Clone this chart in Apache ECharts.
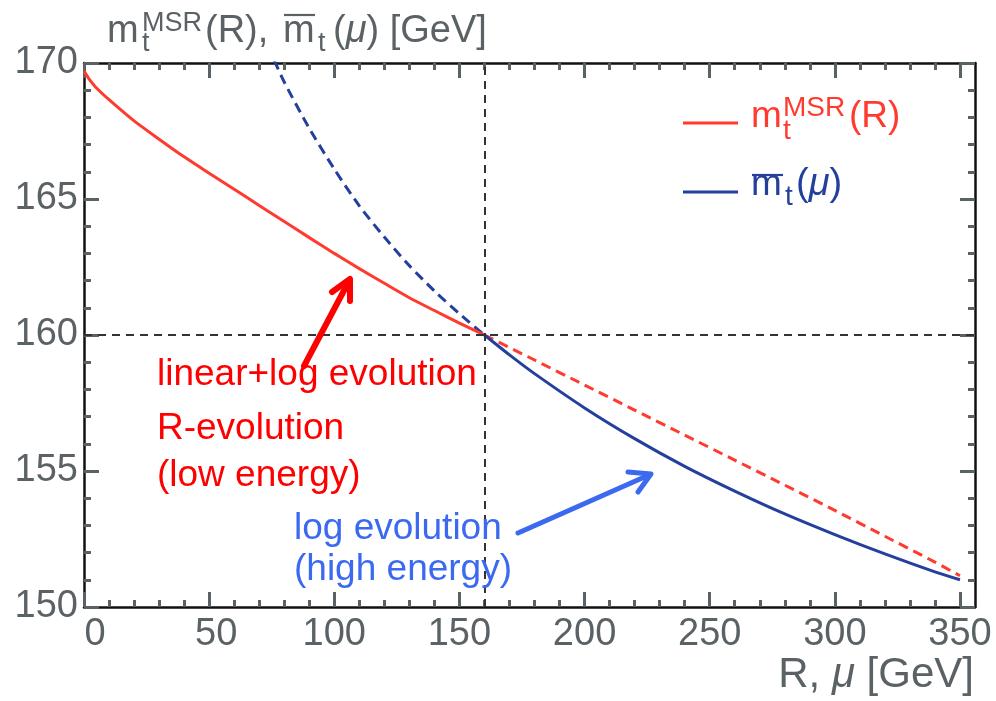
<!DOCTYPE html>
<html><head><meta charset="utf-8">
<script src="https://cdn.jsdelivr.net/npm/echarts@6/dist/echarts.min.js"></script>
<style>html,body{margin:0;padding:0;background:#fff}#c{width:996px;height:701px}</style>
</head><body><div id="c"></div>
<script>
// ---- data ----
const X_MAJOR_TICKS = [0, 50, 100, 150, 200, 250, 300, 350];
const X_MINOR_TICKS = [10, 20, 30, 40, 60, 70, 80, 90, 110, 120, 130, 140, 160, 170, 180, 190, 210, 220, 230, 240, 260, 270, 280, 290, 310, 320, 330, 340];
const MSR_R_LOW = [0, 2, 5, 10, 20, 30, 40, 50, 60, 70, 80, 90, 100, 110, 120, 130, 140, 150, 160];
const MSR_V_LOW = [169.7, 169.42, 169.08, 168.65, 167.87, 167.2, 166.55, 165.95, 165.36, 164.76, 164.17, 163.58, 163.0, 162.44, 161.9, 161.37, 160.9, 160.44, 160.0];
const MSR_R_HIGH = [160, 180, 200, 220, 240, 260, 280, 300, 320, 340, 350];
const MSR_V_HIGH = [160.0, 159.08, 158.16, 157.24, 156.32, 155.4, 154.48, 153.55, 152.6, 151.65, 151.15];
const MS_MU_LOW = [76, 80, 90, 100, 110, 120, 130, 140, 150, 160];
const MS_V_LOW = [170.1, 169.3, 167.6, 166.1, 164.75, 163.6, 162.55, 161.62, 160.78, 160.0];
const MS_MU_HIGH = [160, 170, 180, 200, 220, 240, 260, 280, 300, 320, 340, 350];
const MS_V_HIGH = [160.0, 159.27, 158.58, 157.32, 156.19, 155.17, 154.26, 153.42, 152.66, 151.95, 151.29, 151.0];
const CROSS_R = 160;
const CROSS_M = 160;

// ---- styles ----
const FONT = '"Liberation Sans", Arial, Helvetica, sans-serif';
const GRAY = '#5b6266';
const FRAME = '#111111';
const RED = '#ff3b2f';
const BLUE = '#24409c';
const ANN_RED = '#ff0000';
const ANN_BLUE = '#3b6af0';

function zip(a, b) { return a.map((v, i) => [v, b[i]]); }

const chart = echarts.init(document.getElementById('c'), null, {renderer: 'canvas'});

function xAxisDef(pos, ticks, len, labels) {
  return {
    type: 'value', min: 0, max: 356, position: pos,
    axisLine: {show: labels !== null, onZero: false, lineStyle: {color: FRAME, width: 2.5}},
    axisTick: {show: true, inside: true, length: len, customValues: ticks, lineStyle: {color: GRAY, width: 3}},
    axisLabel: labels ? {
      show: true, customValues: ticks, margin: 9, fontSize: 38, fontFamily: FONT, color: GRAY,
      formatter: v => v === 0 ? '{a|' + v + '}' : (v === 50 ? '{b|' + v + '}' : String(v)),
      rich: {
        a: {fontSize: 38, fontFamily: FONT, color: GRAY, padding: [0, 0, 0, 22]},
        b: {fontSize: 38, fontFamily: FONT, color: GRAY, padding: [0, 0, 0, 14]}
      }
    } : {show: false},
    splitLine: {show: false}
  };
}
function yAxisDef(pos, labels) {
  return {
    type: 'value', min: 150, max: 170, interval: 5, position: pos,
    axisLine: {show: true, onZero: false, lineStyle: {color: FRAME, width: 2.5}},
    axisTick: {show: true, inside: true, length: 15, lineStyle: {color: GRAY, width: 3}},
    minorTick: {show: true, splitNumber: 5, length: 7, lineStyle: {color: GRAY, width: 3}},
    axisLabel: labels ? {show: true, margin: 6, fontSize: 38, fontFamily: FONT, color: GRAY} : {show: false},
    splitLine: {show: false}
  };
}

function txt(x, baseline, text, size, color, extra) {
  return {
    type: 'text', silent: true, z: 50,
    style: Object.assign({
      text: text, x: x, y: baseline - 0.3465 * size,
      fontSize: size, fontFamily: FONT, fill: color,
      textAlign: 'left', align: 'left', textVerticalAlign: 'middle', verticalAlign: 'middle'
    }, extra || {})
  };
}
function hline(x1, x2, y, color, w) {
  return {type: 'line', silent: true, z: 50, shape: {x1: x1, y1: y, x2: x2, y2: y}, style: {stroke: color, lineWidth: w}};
}
function poly(points, color, w) {
  return {type: 'polyline', silent: true, z: 50, shape: {points: points}, style: {stroke: color, lineWidth: w, fill: null, lineCap: 'round', lineJoin: 'round'}};
}
function muRich(size, color) {
  return {rich: {i: {fontStyle: 'italic', fontSize: size, fontFamily: FONT, fill: color}}};
}

const graphics = [
  // y-axis title
  txt(107, 45, 'm', 38, GRAY),
  txt(142, 33, 'MSR', 27, GRAY),
  txt(142, 53, 't', 27, GRAY),
  txt(205, 45, '(R),', 38, GRAY),
  txt(283, 45, 'm', 38, GRAY),
  hline(284, 315, 15, GRAY, 2.2),
  txt(318, 53, 't', 27, GRAY),
  txt(333, 45, '({i|μ}) [GeV]', 38, GRAY, muRich(38, GRAY)),
  // x-axis title
  txt(974, 690, 'R, {i|μ} [GeV]', 42, GRAY, Object.assign({textAlign: 'right', align: 'right'}, muRich(42, GRAY))),
  // legend
  hline(683, 738, 123, RED, 3),
  txt(751, 130, 'm', 37, RED),
  txt(783, 118, 'MSR', 28, RED),
  txt(783, 141, 't', 28, RED),
  txt(849, 130, '(R)', 37, RED),
  hline(683, 738, 192, BLUE, 3),
  txt(751, 198, 'm', 37, BLUE),
  hline(752, 783, 175, BLUE, 2.2),
  txt(785, 207, 't', 28, BLUE),
  txt(796, 198, '({i|μ})', 38, BLUE, muRich(38, BLUE)),
  // annotations
  txt(157, 388, 'linear+log evolution', 37, ANN_RED),
  txt(157, 442, 'R-evolution', 37, ANN_RED),
  txt(157, 489, '(low energy)', 37, ANN_RED),
  txt(294, 542, 'log evolution', 37, ANN_BLUE),
  txt(294, 583, '(high energy)', 37, ANN_BLUE),
  // arrows
  poly([[304, 366], [349, 281]], ANN_RED, 6),
  poly([[332, 292], [350, 279], [350, 301]], ANN_RED, 6),
  poly([[518, 533], [649, 475]], ANN_BLUE, 5),
  poly([[628, 472], [651, 474], [638, 492]], ANN_BLUE, 5)
];

const lineBase = {type: 'line', showSymbol: false, symbol: 'none', smooth: 0.25, clip: true, silent: true, xAxisIndex: 0, yAxisIndex: 0};

chart.setOption({
  animation: false,
  backgroundColor: '#ffffff',
  grid: {left: 84, right: 21, top: 63, bottom: 94, containLabel: false},
  xAxis: [
    xAxisDef('bottom', X_MAJOR_TICKS, 15, true),
    xAxisDef('bottom', X_MINOR_TICKS, 7, null),
    xAxisDef('top', X_MAJOR_TICKS, 15, false),
    xAxisDef('top', X_MINOR_TICKS, 7, null)
  ],
  yAxis: [yAxisDef('left', true), yAxisDef('right', false)],
  series: [
    Object.assign({}, lineBase, {
      name: 'mMSR solid', data: zip(MSR_R_LOW, MSR_V_LOW), z: 4,
      lineStyle: {color: RED, width: 3},
      markLine: {
        silent: true, symbol: 'none', animation: false,
        label: {show: false},
        lineStyle: {color: '#333333', type: [8, 6], width: 2},
        data: [{xAxis: CROSS_R}, {yAxis: CROSS_M}]
      }
    }),
    Object.assign({}, lineBase, {name: 'mMSR dashed', data: zip(MSR_R_HIGH, MSR_V_HIGH), z: 3, lineStyle: {color: RED, width: 3, type: [10, 6]}}),
    Object.assign({}, lineBase, {name: 'mMS dashed', data: zip(MS_MU_LOW, MS_V_LOW), z: 3, lineStyle: {color: BLUE, width: 3, type: [10, 6]}}),
    Object.assign({}, lineBase, {name: 'mMS solid', data: zip(MS_MU_HIGH, MS_V_HIGH), z: 4, lineStyle: {color: BLUE, width: 3}})
  ],
  graphic: graphics
});
</script></body></html>
